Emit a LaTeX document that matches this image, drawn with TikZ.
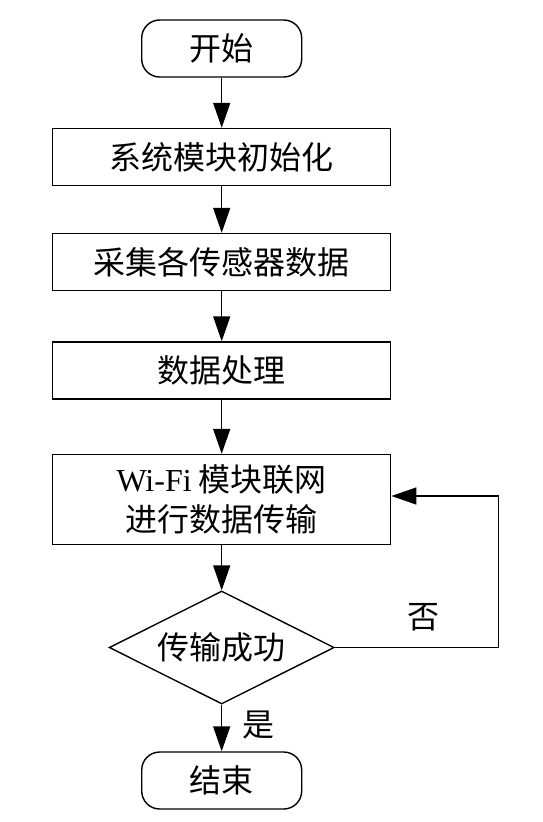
\documentclass[tikz,border=0pt]{standalone}
\usepackage{fontspec}
\setmainfont{Liberation Serif}
\newfontfamily\cjk{Noto Sans CJK SC}
\usetikzlibrary{shapes.geometric,arrows.meta}

\tikzset{
	box/.style={draw, line width=1.4pt, minimum width=338pt, minimum height=57pt, inner sep=0pt, align=center},
	term/.style={draw, line width=1.4pt, rounded corners=18pt, minimum width=160pt, minimum height=57pt, inner sep=0pt},
	decide/.style={draw, diamond, aspect=2, line width=1.4pt, minimum width=225pt, minimum height=113pt, inner sep=0pt},
	arr/.style={line width=1.4pt, -{Triangle[length=25pt,width=17pt]}}
}

\begin{document}
\begin{tikzpicture}[x=1pt, y=1pt, font=\cjk\fontsize{32}{40}\selectfont]
							
							\useasboundingbox (0,0) rectangle (543,-822);
							
							\node[term] (start) at (221.7,-48.5) {开始};
							\foreach \name/\y/\label in {
								init/157/系统模块初始化,
								collect/262/采集各传感器数据,
								proc/370.5/数据处理}
							{
								\node[box] (\name) at (221.7,-\y) {\label};
							};
							\node[box, minimum height=90pt] (send) at (221.7,-499.5) {{\rmfamily Wi-Fi} 模块联网\\进行数据传输};
							\node[decide] (check) at (221.7,-647.5) {传输成功};
							\node[term] (stop) at (221.7,-780.5) {结束};
							
							\foreach \from/\to in {start/init, init/collect, collect/proc, proc/send, send/check, check/stop}
							{
								\draw[arr] (\from) -- (\to);
							};
							
							\draw[arr] (check.east) -- ++(163.7,0) |- ([yshift=3.5pt]send.east);
							\node (no) at (423,-617) {否};
							\node (yes) at (258,-725) {是};
							
							\end{tikzpicture}
\end{document}
